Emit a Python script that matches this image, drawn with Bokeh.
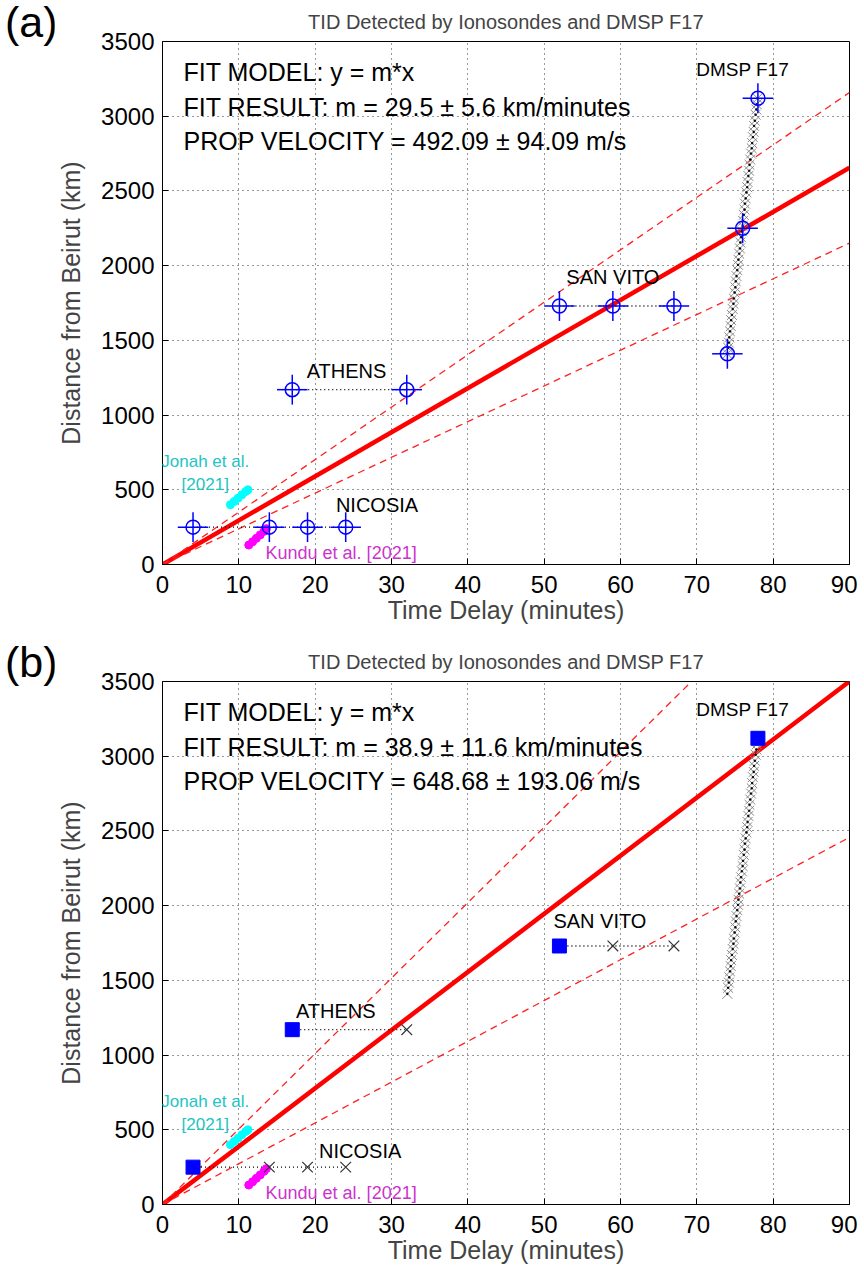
import numpy as np
from bokeh.plotting import figure
from bokeh.layouts import column, row
from bokeh.models import Label, Range1d, FixedTicker, Div
from bokeh.embed import file_html
from bokeh.resources import INLINE

# ---------------- data ----------------
nicosia_t = [4, 14, 19, 24]
nicosia_d = [250, 250, 250, 250]
athens_t = [17, 32]
athens_d = [1170, 1170]
sanvito_t = [52, 59, 67]
sanvito_d = [1730, 1730, 1730]
dmsp_obs_t = [74, 76, 78]
dmsp_obs_d = [1410, 2250, 3120]

dmsp_t = [74.0, 74.1, 74.2, 74.25, 74.35, 74.45, 74.5, 74.6, 74.7, 74.8, 74.85, 74.95,
          75.05, 75.1, 75.2, 75.3, 75.4, 75.45, 75.55, 75.65, 75.7, 75.8, 75.9, 76.0,
          76.05, 76.15, 76.25, 76.3, 76.4, 76.5, 76.6, 76.65, 76.75, 76.85, 76.9, 77.0,
          77.1, 77.2, 77.25, 77.35, 77.45, 77.5, 77.6, 77.7, 77.8, 77.85, 77.95]
dmsp_d = [1410, 1450, 1485, 1520, 1560, 1595, 1635, 1670, 1710, 1745, 1780, 1820,
          1855, 1895, 1930, 1970, 2005, 2040, 2080, 2115, 2155, 2190, 2230, 2265,
          2300, 2340, 2375, 2415, 2450, 2490, 2525, 2560, 2600, 2635, 2675, 2710,
          2750, 2785, 2820, 2860, 2895, 2935, 2970, 3010, 3045, 3080, 3120]

jonah_t = [8.9, 9.4, 9.9, 10.4, 10.9, 11.2]
jonah_d = [400, 422, 444, 466, 488, 500]
kundu_t = [11.3, 11.8, 12.3, 12.8, 13.3, 13.6]
kundu_d = [130, 152, 175, 198, 222, 240]

t_err = 2.0
d_err = 100.0

fit_a = (29.5, 5.6, "492.09", "94.09")
fit_b = (38.9, 11.6, "648.68", "193.06")

x_ticks = [0, 10, 20, 30, 40, 50, 60, 70, 80, 90]
y_ticks = [0, 500, 1000, 1500, 2000, 2500, 3000, 3500]
X_MAX = 90
Y_MAX = 3500

FONT = "Liberation Sans"


def fit_line(slope):
    x_end = min(X_MAX, Y_MAX / slope)
    return [0, x_end], [0, slope * x_end]


def make_panel(fit, first_style, height, bottom, label_pos):
    m, m_err, vel, vel_err = fit
    p = figure(frame_width=687, frame_height=523, height=height, width=794,
               min_border_left=99, min_border_right=8, min_border_top=41,
               min_border_bottom=bottom,
               x_range=Range1d(0, X_MAX), y_range=Range1d(0, Y_MAX),
               output_backend="svg", toolbar_location=None,
               title="TID Detected by Ionosondes and DMSP F17")
    p.title.align = "center"
    p.title.text_font = FONT
    p.title.text_font_size = "20px"
    p.title.text_font_style = "normal"
    p.title.text_line_height = 0.9
    p.title.standoff = 17
    p.outline_line_color = "black"
    p.outline_line_width = 1
    p.background_fill_color = "white"
    p.border_fill_color = "white"

    p.xaxis.ticker = FixedTicker(ticks=x_ticks)
    p.yaxis.ticker = FixedTicker(ticks=y_ticks)
    p.xaxis.axis_label = "Time Delay (minutes)"
    p.yaxis.axis_label = "Distance from Beirut (km)"
    for ax in (p.xaxis, p.yaxis):
        ax.axis_label_text_font = FONT
        ax.axis_label_text_font_style = "normal"
        ax.axis_label_text_font_size = "25px"
        ax.major_label_text_font = FONT
        ax.major_label_text_font_size = "24px"
        ax.major_tick_in = 6
        ax.major_tick_out = 0
        ax.minor_tick_in = 0
        ax.minor_tick_out = 0
        ax.axis_line_color = "black"
        ax.major_label_text_color = "black"
    p.xaxis.major_label_standoff = 11
    p.xaxis.axis_label_standoff = 0
    p.yaxis.major_label_standoff = 8
    p.yaxis.axis_label_standoff = 13

    p.grid.grid_line_color = "black"
    p.grid.grid_line_dash = "1 4"
    p.grid.grid_line_alpha = 0.8

    # fit lines
    xs, ys = fit_line(m)
    p.line(xs, ys, line_color="#ff0000", line_width=4.5)
    for s in (m + m_err, m - m_err):
        xs, ys = fit_line(s)
        p.line(xs, ys, line_color="#ff2020", line_width=1.3, line_dash="7 5")

    # station connectors
    for ts, ds in ((nicosia_t, nicosia_d), (athens_t, athens_d), (sanvito_t, sanvito_d)):
        p.line(ts, ds, line_color="black", line_width=1.3, line_dash="1 3")

    # DMSP track
    p.scatter(dmsp_t, dmsp_d, marker="x", size=14, line_color="#8a8a8a", line_width=1)
    p.scatter(dmsp_t, dmsp_d, marker="circle", size=1.6, fill_color="black",
              line_color="black")

    # reference studies
    p.scatter(jonah_t, jonah_d, marker="circle", size=8, fill_color="#00ffff",
              line_color="#00ffff")
    p.scatter(kundu_t, kundu_d, marker="circle", size=8, fill_color="#ff00ff",
              line_color="#ff00ff")

    all_t = nicosia_t + athens_t + sanvito_t + dmsp_obs_t
    all_d = nicosia_d + athens_d + sanvito_d + dmsp_obs_d
    if first_style == "circle":
        at = np.array(all_t, dtype=float)
        ad = np.array(all_d, dtype=float)
        p.segment(at - t_err, ad, at + t_err, ad, line_color="#0000ff", line_width=1.5)
        p.segment(at, ad - d_err, at, ad + d_err, line_color="#0000ff", line_width=1.5)
        p.scatter(all_t, all_d, marker="circle", size=14, fill_color=None,
                  line_color="#0000ff", line_width=1.5)
    else:
        first_t = [nicosia_t[0], athens_t[0], sanvito_t[0], dmsp_obs_t[-1]]
        first_d = [nicosia_d[0], athens_d[0], sanvito_d[0], dmsp_obs_d[-1]]
        later_t = nicosia_t[1:] + athens_t[1:] + sanvito_t[1:]
        later_d = nicosia_d[1:] + athens_d[1:] + sanvito_d[1:]
        p.scatter(later_t, later_d, marker="x", size=15, line_color="#333333",
                  line_width=1.2)
        p.scatter(first_t, first_d, marker="square", size=14, fill_color="#0000ff",
                  line_color="#0000ff")

    def lab(x, y, text, size, color="black", align="left", base="middle"):
        p.add_layout(Label(x=x, y=y, text=text, text_font=FONT,
                           text_font_size=size, text_color=color,
                           text_align=align, text_baseline=base))

    lab(2.75, 3299, "FIT MODEL: y = m*x", "25px")
    lab(2.75, 3065, "FIT RESULT: m = %.1f \u00b1 %.1f km/minutes" % (m, m_err), "25px")
    lab(2.75, 2837, "PROP VELOCITY = %s \u00b1 %s m/s" % (vel, vel_err), "25px")

    lab(76.0, 3312, "DMSP F17", "19px", align="center")
    for name, (x, y) in label_pos.items():
        lab(x, y, name, "20px", align="center")
    lab(5.6, 689, "Jonah et al.", "17px", color="#22c4c4", align="center")
    lab(5.6, 535, "[2021]", "17px", color="#22c4c4", align="center")
    lab(13.5, 74, "Kundu et al. [2021]", "18px", color="#cc33cc", align="left")
    return p


def panel_tag(tag):
    html = ('<div style="font-family:\'Liberation Sans\';font-size:43px;'
            'line-height:44px;padding-left:5px;white-space:nowrap;color:black;">'
            '%s</div>' % tag)
    return Div(text=html, width=54, height=48, margin=(0, 0, 0, 0))


pos_a = {"NICOSIA": (28.1, 401), "ATHENS": (24.1, 1292), "SAN VITO": (59.0, 1927)}
pos_b = {"NICOSIA": (25.9, 355), "ATHENS": (22.7, 1292), "SAN VITO": (57.3, 1900)}

pa = make_panel(fit_a, "circle", 640, 76, pos_a)
pb = make_panel(fit_b, "square", 624, 60, pos_b)

layout = column(row(panel_tag("(a)"), pa, spacing=0),
                row(panel_tag("(b)"), pb, spacing=0), spacing=0)
open("out.html", "w").write(file_html(layout, INLINE))
